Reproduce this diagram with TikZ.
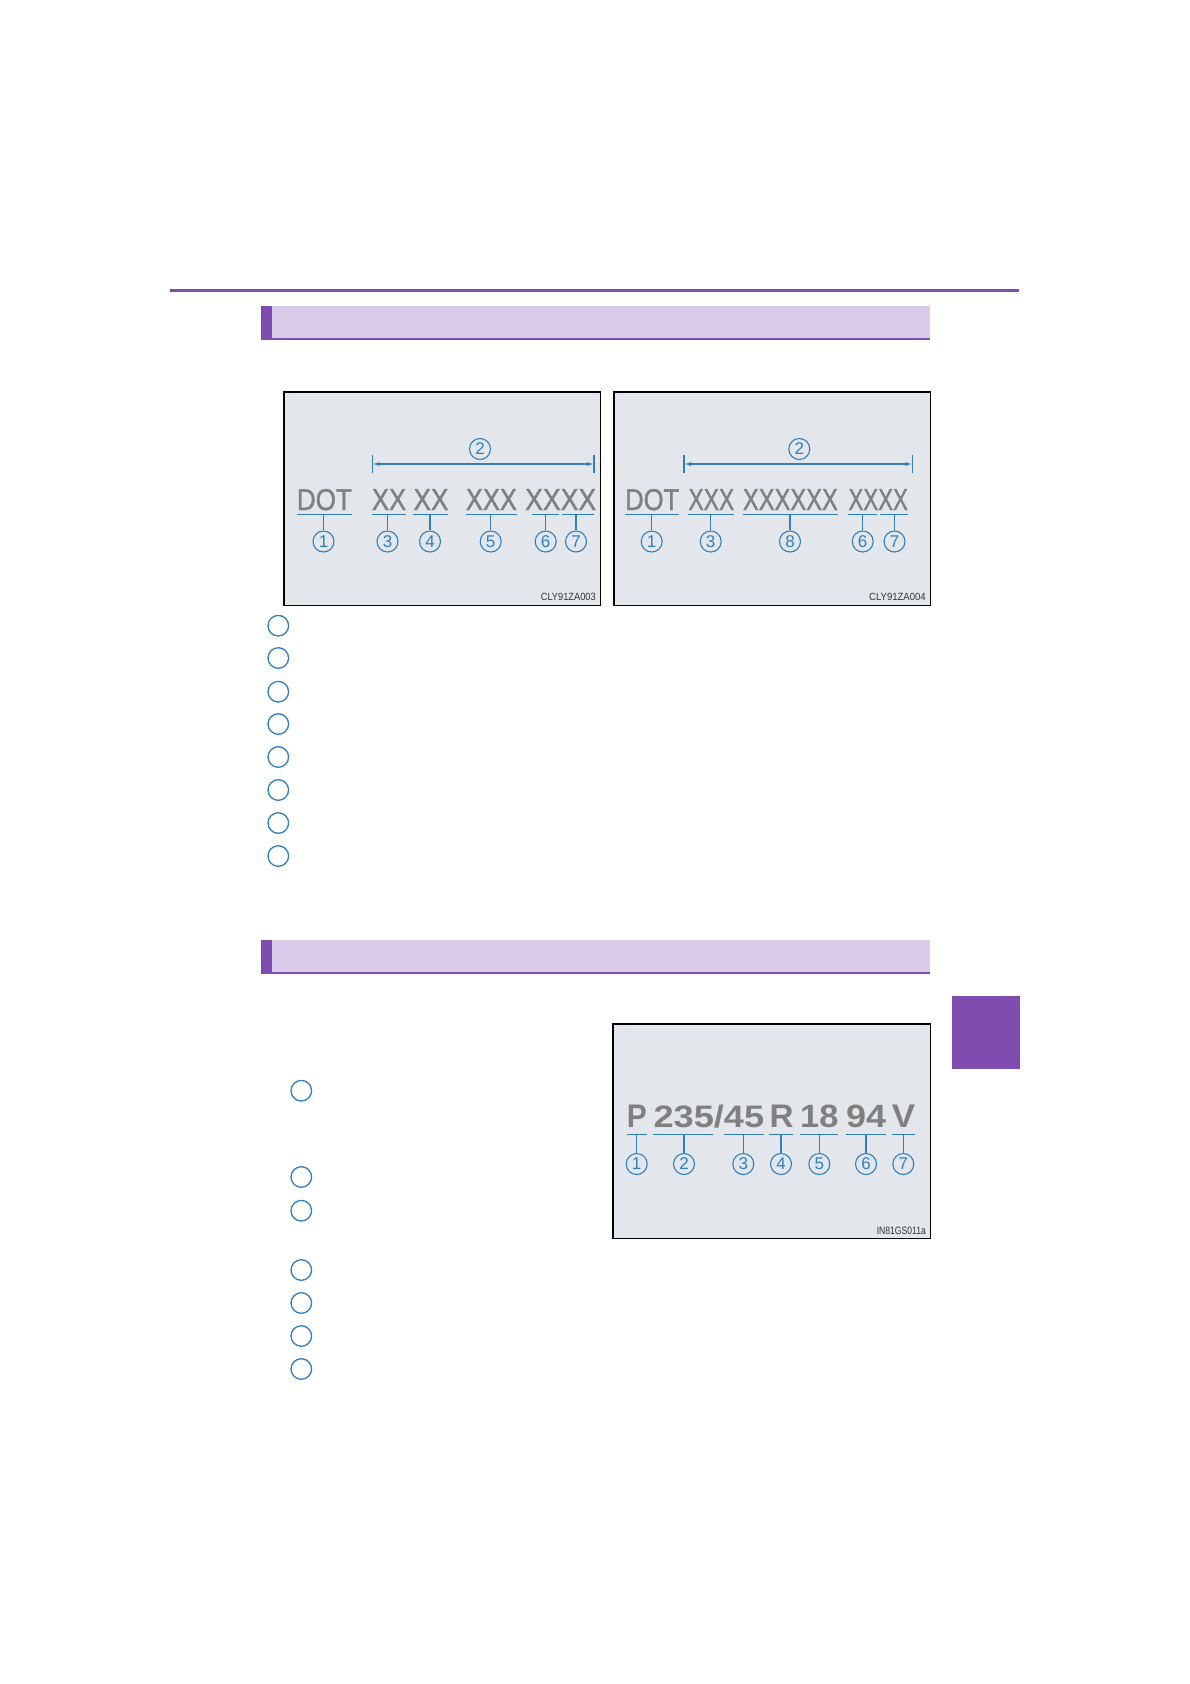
\documentclass[tikz,border=0pt]{standalone}
\usepackage{fontspec}
\usepackage{graphicx}
\usetikzlibrary{arrows.meta}
\newfontfamily\arialf{Liberation Sans}
\newfontfamily\arialemb[FakeBold=1.3]{Liberation Sans}
\definecolor{pdark}{HTML}{7E4DAF}
\definecolor{prule}{HTML}{7B52A3}
\definecolor{plight}{HTML}{DACBEA}
\definecolor{tblue}{HTML}{2F7FC1}
\definecolor{boxbg}{HTML}{E3E7EB}
\definecolor{embmain}{HTML}{808080}
\tikzset{
  picbox/.style={draw=black, line width=1.1pt, fill=boxbg},
  bl/.style={draw=tblue, line width=1.2pt},
  numc/.style={circle, draw=tblue, line width=1.1pt, minimum size=21pt, inner sep=0pt,
    text=tblue, font=\arialf\fontsize{17}{17}\selectfont},
  listc/.style={circle, draw=tblue, line width=1.3pt, minimum size=20.6pt, inner sep=0pt},
  embn/.style={inner sep=0pt, anchor=base west, text=embmain},
  code/.style={inner sep=0pt, anchor=base east, text=black!80, font=\arialf\fontsize{10}{10}\selectfont},
  dimarrow/.style={bl, {Latex[length=7pt,width=4pt]}-{Latex[length=7pt,width=4pt]}},
}
% tyre text: name, x, baseline, width, height, font, text
\newcommand\embt[7]{%
  \node[embn,font=#6] (#1) at (#2,#3) {\resizebox{#4pt}{#5pt}{#7}};}
\newcommand\uline[5]{% name, x1, x2, y, circle node
  \coordinate (#1a) at (#2,#4);
  \coordinate (#1b) at (#3,#4);
  \draw[bl] (#1a) -- (#1b);
  \draw[bl] (#5.north) -- (#5.north |- #1a);}
\begin{document}
\begin{tikzpicture}[x=1pt,y=-1pt]
\useasboundingbox (0,0) rectangle (1190,1684);
\fill[white] (0,0) rectangle (1190,1684);

% top rule
\coordinate (ruleL) at (170,290);
\coordinate (ruleR) at (1019,290);
\draw[prule, line width=3pt] (ruleL) -- (ruleR);

% header bar 1
\fill[plight] (261,306) rectangle (930,338);
\fill[pdark] (261,338) rectangle (930,340);
\fill[pdark] (261,306) rectangle (272,340);

% header bar 2
\fill[plight] (261,940) rectangle (930,972);
\fill[pdark] (261,972) rectangle (930,974);
\fill[pdark] (261,940) rectangle (272,974);

% side tab
\fill[pdark] (952,996) rectangle (1020,1069);

% ===== Box 1 =====
\draw[picbox] (284,392) rectangle (600.5,605.5);
\embt{b1t1}{296.7}{510}{55}{21}{\arialemb}{DOT}
\embt{b1t2}{371.7}{510}{34.3}{21}{\arialemb}{XX}
\embt{b1t3}{413.3}{510}{35}{21}{\arialemb}{XX}
\embt{b1t4}{465.7}{510}{51}{21}{\arialemb}{XXX}
\embt{b1t5}{525}{510}{71}{21}{\arialemb}{XXXX}
\node[numc] (b1n1) at (323.5,541.5) {1};
\node[numc] (b1n3) at (387.5,541.5) {3};
\node[numc] (b1n4) at (430,541.5) {4};
\node[numc] (b1n5) at (490.7,541.5) {5};
\node[numc] (b1n6) at (545.7,541.5) {6};
\node[numc] (b1n7) at (576,541.5) {7};
\uline{b1u1}{296.7}{351.7}{514.5}{b1n1}
\uline{b1u3}{371.7}{406}{514.5}{b1n3}
\uline{b1u4}{413.3}{448.3}{514.5}{b1n4}
\uline{b1u5}{465.7}{516.7}{514.5}{b1n5}
\uline{b1u6}{531.7}{559.3}{514.5}{b1n6}
\uline{b1u7}{561.7}{594.3}{514.5}{b1n7}
\node[numc] (b1n2) at (480,449) {2};
\coordinate (b1dL) at (372.3,464);
\coordinate (b1dR) at (594,464);
\draw[bl] (372.3,455) -- (372.3,472.5);
\draw[bl] (594,455) -- (594,472.5);
\draw[dimarrow] (b1dL) -- (b1dR);
\node[code] (b1code) at (596,600.5) {\resizebox{55pt}{7.3pt}{CLY91ZA003}};

% ===== Box 2 =====
\draw[picbox] (614,392) rectangle (930.5,605.5);
\embt{b2t1}{625}{510}{54}{21}{\arialemb}{DOT}
\embt{b2t2}{688.3}{510}{45.7}{21}{\arialemb}{XXX}
\embt{b2t3}{742.7}{510}{95}{21}{\arialemb}{XXXXXX}
\embt{b2t4}{848.3}{510}{59.4}{21}{\arialemb}{XXXX}
\node[numc] (b2n1) at (651.7,541.5) {1};
\node[numc] (b2n3) at (710.7,541.5) {3};
\node[numc] (b2n8) at (790,541.5) {8};
\node[numc] (b2n6) at (862.7,541.5) {6};
\node[numc] (b2n7) at (894.5,541.5) {7};
\uline{b2u1}{625}{679}{514.5}{b2n1}
\uline{b2u3}{688.3}{734}{514.5}{b2n3}
\uline{b2u8}{742.7}{837.7}{514.5}{b2n8}
\uline{b2u6}{848.3}{876.7}{514.5}{b2n6}
\uline{b2u7}{880}{907.7}{514.5}{b2n7}
\node[numc] (b2n2) at (799.3,449) {2};
\coordinate (b2dL) at (684,464);
\coordinate (b2dR) at (912.3,464);
\draw[bl] (684,455) -- (684,472.5);
\draw[bl] (912.3,455) -- (912.3,472.5);
\draw[dimarrow] (b2dL) -- (b2dR);
\node[code] (b2code) at (926,600.5) {\resizebox{56.7pt}{7.3pt}{CLY91ZA004}};

% ===== Box 3 =====
\draw[picbox] (613,1024) rectangle (930.5,1238.5);
\embt{b3t1}{626.7}{1127}{20}{22.5}{\arialf\bfseries}{P}
\embt{b3t2}{653.3}{1127}{110.7}{22.5}{\arialf\bfseries}{235/45}
\embt{b3t3}{769.3}{1127}{24}{22.5}{\arialf\bfseries}{R}
\embt{b3t4}{800}{1127}{38.3}{22.5}{\arialf\bfseries}{18}
\embt{b3t5}{846}{1127}{40}{22.5}{\arialf\bfseries}{94}
\embt{b3t6}{891.7}{1127}{23.3}{22.5}{\arialf\bfseries}{V}
\node[numc] (b3n1) at (636.7,1164) {1};
\node[numc] (b3n2) at (684,1164) {2};
\node[numc] (b3n3) at (743.3,1164) {3};
\node[numc] (b3n4) at (781,1164) {4};
\node[numc] (b3n5) at (819.3,1164) {5};
\node[numc] (b3n6) at (866,1164) {6};
\node[numc] (b3n7) at (903.3,1164) {7};
\uline{b3u1}{626.7}{646.7}{1134.5}{b3n1}
\uline{b3u2}{653.3}{713.3}{1134.5}{b3n2}
\uline{b3u3}{724.3}{764}{1134.5}{b3n3}
\uline{b3u4}{769.3}{793.3}{1134.5}{b3n4}
\uline{b3u5}{800}{838.3}{1134.5}{b3n5}
\uline{b3u6}{846}{886}{1134.5}{b3n6}
\uline{b3u7}{891.7}{915}{1134.5}{b3n7}
\node[code] (b3code) at (926,1234.5) {\resizebox{49pt}{7.5pt}{IN81GS011a}};

% ===== list circles 1 =====
\node[listc] (l1a) at (278.3,625.7) {};
\node[listc] (l1b) at (278.3,658) {};
\node[listc] (l1c) at (278.3,691.7) {};
\node[listc] (l1d) at (278.3,724) {};
\node[listc] (l1e) at (278.3,757) {};
\node[listc] (l1f) at (278.3,790) {};
\node[listc] (l1g) at (278.3,823) {};
\node[listc] (l1h) at (278.3,856) {};

% ===== list circles 2 =====
\node[listc] (l2a) at (301.3,1090.7) {};
\node[listc] (l2b) at (301.3,1177) {};
\node[listc] (l2c) at (301.3,1210.7) {};
\node[listc] (l2d) at (301.3,1270) {};
\node[listc] (l2e) at (301.3,1303) {};
\node[listc] (l2f) at (301.3,1336) {};
\node[listc] (l2g) at (301.3,1369) {};
\end{tikzpicture}
\end{document}
